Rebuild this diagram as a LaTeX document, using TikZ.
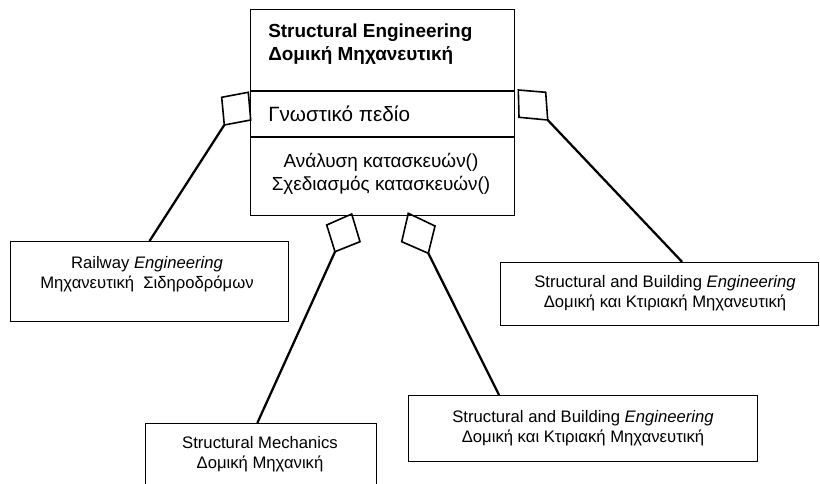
\documentclass[tikz,border=0pt]{standalone}
\usepackage{fontspec}
\setmainfont{Liberation Sans}
\usetikzlibrary{calc}
\begin{document}
\begin{tikzpicture}[x=0.75pt,y=-0.75pt,
  box/.style={draw, line width=0.8pt, anchor=north west, inner sep=0pt},
  diam/.style={draw, line width=1.2pt, line join=miter},
  conn/.style={line width=1.7pt},
  lbl/.style={inner sep=0pt, align=center, font=\fontsize{12.5}{15.2}\selectfont},
  ttlfont/.style={inner sep=0pt, align=left, anchor=west, font=\fontsize{14.2}{17.25}\selectfont\bfseries},
  attrfont/.style={inner sep=0pt, anchor=west, font=\fontsize{15.5}{18}\selectfont},
  opsfont/.style={inner sep=0pt, align=center, font=\fontsize{14.2}{17.25}\selectfont}
]
\clip (0,0) rectangle (820,484);
% central class box
\node[box, minimum width=198pt, minimum height=60.75pt] (cname) at (250,9) {};
\node[box, minimum width=198pt, minimum height=33.75pt] (cattr) at (cname.south west) {};
\node[box, minimum width=198pt, minimum height=58.5pt] (cops) at (cattr.south west) {};
\node[ttlfont] (ttl) at (268,44.5) {Structural Engineering\\Δομική Μηχανευτική};
\node[attrfont] (attr) at (268,114) {Γνωστικό πεδίο};
\node[opsfont] (ops) at (381,173.5) {Ανάλυση κατασκευών()\\Σχεδιασμός κατασκευών()};
% part boxes
\node[box, minimum width=208.5pt, minimum height=60pt] (rail) at (10,241) {};
\node[box, minimum width=238.5pt, minimum height=47.25pt] (sbe1) at (500,262) {};
\node[box, minimum width=261.75pt, minimum height=49.5pt] (sbe2) at (408,395) {};
\node[box, minimum width=173.25pt, minimum height=67.5pt] (mech) at (145,423) {};
\node[lbl] (railt) at (147,274.5) {Railway \textit{Engineering}\\Μηχανευτική~ Σιδηροδρόμων};
\node[lbl] (sbe1t) at (665,293) {Structural and Building \textit{Engineering}\\Δομική και Κτιριακή Μηχανευτική};
\node[lbl] (sbe2t) at (583,428) {Structural and Building \textit{Engineering}\\Δομική και Κτιριακή Μηχανευτική};
\node[lbl] (mecht) at (260,454) {Structural Mechanics\\Δομική Μηχανική};
% aggregation diamonds
\coordinate (dla) at (248.3,92.3);
\coordinate (dlb) at (221.7,97.3);
\coordinate (dltip) at (224.3,125);
\coordinate (dld) at (250.7,120);
\draw[diam] (dla) -- (dlb) -- (dltip) -- (dld) -- cycle;
\coordinate (dra) at (518.3,90);
\coordinate (drb) at (545.7,92.3);
\coordinate (drtip) at (547.7,120);
\coordinate (drd) at (519,117.3);
\draw[diam] (dra) -- (drb) -- (drtip) -- (drd) -- cycle;
\coordinate (dma) at (351.7,214);
\coordinate (dmb) at (360,241.7);
\coordinate (dmtip) at (335,251.7);
\coordinate (dmd) at (326.7,225);
\draw[diam] (dma) -- (dmb) -- (dmtip) -- (dmd) -- cycle;
\coordinate (dna) at (408.3,213.3);
\coordinate (dnb) at (435,226);
\coordinate (dntip) at (428.3,253.3);
\coordinate (dnd) at (401.7,241.7);
\draw[diam] (dna) -- (dnb) -- (dntip) -- (dnd) -- cycle;
% connectors
\draw[conn] (dltip) -- (rail.north);
\draw[conn] (drtip) -- ($(sbe1.north west)!0.571!(sbe1.north east)$);
\draw[conn] (dmtip) -- ($(mech.north west)!0.484!(mech.north east)$);
\draw[conn] (dntip) -- ($(sbe2.north west)!0.26!(sbe2.north east)$);
\end{tikzpicture}
\end{document}
